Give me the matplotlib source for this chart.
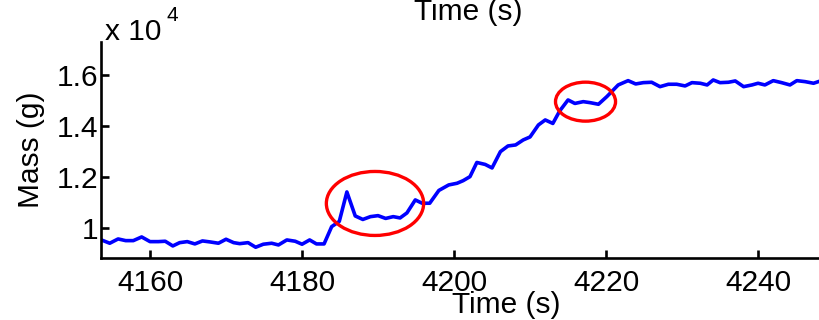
import matplotlib
matplotlib.use("Agg")
import matplotlib.pyplot as plt
from matplotlib.patches import Ellipse
from matplotlib.ticker import FixedLocator, FuncFormatter

plt.rcParams['font.family'] = ['Liberation Sans', 'DejaVu Sans']

# Load-cell record: time stamp (s) and measured mass (g)
time_s = [
    4153.6, 4154.7, 4155.8, 4156.8, 4157.8, 4158.9, 4160.0, 4161.1, 4162.0, 4163.0,
    4163.9, 4164.9, 4165.9, 4166.9, 4167.9, 4169.0, 4170.0, 4171.0, 4171.8, 4172.9,
    4173.9, 4174.9, 4176.0, 4176.9, 4178.0, 4179.1, 4180.0, 4181.0, 4181.9, 4182.9,
    4183.9, 4184.9, 4185.9, 4187.0, 4188.0, 4189.0, 4190.0, 4191.0, 4192.0, 4192.9,
    4193.8, 4194.9, 4195.8, 4196.8, 4198.0, 4199.3, 4200.4, 4201.2, 4202.1, 4203.0,
    4204.1, 4205.0, 4206.1, 4207.1, 4208.1, 4209.1, 4210.0, 4211.1, 4212.0, 4213.0,
    4213.9, 4215.0, 4215.9, 4217.0, 4217.9, 4219.0, 4220.1, 4221.6, 4222.9, 4223.9,
    4224.9, 4226.0, 4227.1, 4228.2, 4229.3, 4230.4, 4231.3, 4232.4, 4233.3, 4234.1,
    4235.0, 4236.1, 4237.0, 4238.1, 4239.2, 4240.0, 4240.9, 4242.0, 4243.1, 4244.2,
    4245.1, 4246.2, 4247.3, 4248.2,
]
mass_g = [
    9542, 9413, 9581, 9515, 9515, 9659, 9476, 9476, 9491, 9307,
    9436, 9476, 9386, 9503, 9464, 9413, 9569, 9436, 9397, 9436,
    9256, 9374, 9413, 9346, 9542, 9491, 9374, 9542, 9386, 9386,
    10063, 10266, 11421, 10481, 10344, 10454, 10493, 10384, 10454, 10403,
    10599, 11108, 10979, 10979, 11479, 11695, 11761, 11863, 12020, 12575,
    12497, 12360, 12998, 13221, 13260, 13456, 13573, 14043, 14239, 14102,
    14591, 15022, 14885, 14955, 14916, 14853, 15151, 15609, 15777, 15648,
    15699, 15714, 15542, 15636, 15636, 15570, 15699, 15675, 15609, 15804,
    15699, 15714, 15765, 15542, 15609, 15675, 15609, 15777, 15699, 15609,
    15777, 15738, 15675, 15765,
]

x_ticks = [4160, 4180, 4200, 4220, 4240]
y_ticks = [10000, 12000, 14000, 16000]

# Highlighted disturbances: (centre time, centre mass, width s, height g)
spike_zone = (4189.6, 10970, 12.8, 2505)
plateau_zone = (4217.3, 14955, 7.9, 1526)

FS = 21.5

fig = plt.figure(figsize=(8.2, 3.2), dpi=100)
ax = fig.add_axes([101 / 820, 62 / 320, 719 / 820, 216 / 320])

ax.plot(time_s, mass_g, color='#0000ff', lw=2.6, solid_joinstyle='round')

for cx, cy, w, h in (spike_zone, plateau_zone):
    ax.add_patch(Ellipse((cx, cy), w, h, fill=False, edgecolor='#ff0000',
                         lw=2.4, zorder=3))

ax.set_xlim(4153.55, 4248.15)
ax.set_ylim(8835, 17290)

ax.xaxis.set_major_locator(FixedLocator(x_ticks))
ax.yaxis.set_major_locator(FixedLocator(y_ticks))
ax.yaxis.set_major_formatter(FuncFormatter(lambda v, p: f"{v / 1e4:g}"))

for side in ('top', 'right'):
    ax.spines[side].set_visible(False)
for side in ('left', 'bottom'):
    ax.spines[side].set_linewidth(1.9)

ax.tick_params(axis='both', direction='in', length=6, width=1.9,
               labelsize=FS, colors='black')
ax.tick_params(axis='x', pad=8)
ax.tick_params(axis='y', pad=2)

ax.set_xlabel('Time (s)', fontsize=FS)
ax.xaxis.set_label_coords(0.563, -0.155)
ax.set_ylabel('Mass (g)', fontsize=FS)
ax.yaxis.set_label_coords(-0.078, 0.5)

# Exponent marker above the y axis
fig.text(105 / 820, 1 - 40 / 320, 'x 10', fontsize=FS, ha='left', va='baseline')
fig.text(167 / 820, 1 - 21 / 320, '4', fontsize=15, ha='left', va='baseline')

# Axis label of the panel above, cut by the figure edge
fig.text(468 / 820, 1 - 20 / 320, 'Time (s)', fontsize=FS, ha='center', va='baseline')

fig.savefig('out.png', dpi=100)
